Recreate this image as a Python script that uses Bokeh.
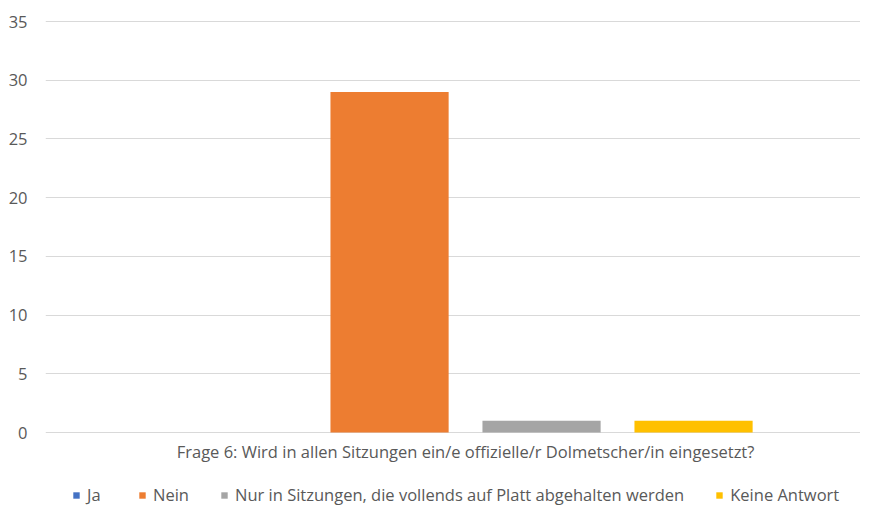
from bokeh.plotting import figure
from bokeh.models import Range1d, FixedTicker, Legend, LegendItem, ColumnDataSource
from bokeh.core.properties import value
from bokeh.embed import file_html
from bokeh.resources import INLINE

# ---- data ----
category = "Frage 6: Wird in allen Sitzungen ein/e offizielle/r Dolmetscher/in eingesetzt?"
series_names = ["Ja", "Nein", "Nur in Sitzungen, die vollends auf Platt abgehalten werden", "Keine Antwort"]
series_values = [0, 29, 1, 1]
series_colors = ["#4472C4", "#ED7D31", "#A5A5A5", "#FFC000"]
y_ticks = [0, 5, 10, 15, 20, 25, 30, 35]

FONT = "Open Sans"
TXT = "#595959"
FS = "16.5px"

cat_pos = 0.0
step = 0.1865
bar_w = 0.145
label_y = -1.62   # category label sits just below the value axis

p = figure(width=860, height=506, output_backend="svg", toolbar_location=None,
           x_range=Range1d(-0.5154, 0.4846), y_range=Range1d(-6.3, 35.09),
           min_border_left=45, min_border_right=0, min_border_top=20, min_border_bottom=0)
p.outline_line_color = None
p.background_fill_color = "white"
p.border_fill_color = "white"

renderers = []
n = len(series_names)
for i, (name, val, col) in enumerate(zip(series_names, series_values, series_colors)):
    off = (i - (n - 1) / 2) * step
    src = ColumnDataSource(dict(x=[cat_pos + off], top=[val]))
    r = p.vbar(x="x", top="top", bottom=0, width=bar_w, source=src, fill_color=col, line_color=None)
    renderers.append((name, r))

# y axis
p.yaxis.ticker = FixedTicker(ticks=y_ticks)
p.yaxis.axis_line_color = None
p.yaxis.major_tick_line_color = None
p.yaxis.major_tick_out = 0
p.yaxis.minor_tick_line_color = None
p.yaxis.major_label_standoff = 18
p.yaxis.major_label_text_font = FONT
p.yaxis.major_label_text_font_size = FS
p.yaxis.major_label_text_color = TXT

p.xaxis.visible = False
p.xgrid.grid_line_color = None
p.ygrid.grid_line_color = "#D9D9D9"
p.ygrid.grid_line_width = 1

# category label under the axis
p.text(x=[cat_pos], y=[label_y], text=[category], text_font=value(FONT),
       text_font_size=FS, text_color=TXT, text_align="center", text_baseline="middle")

legend = Legend(items=[LegendItem(label=nm, renderers=[r]) for nm, r in renderers],
                orientation="horizontal", location=(27, 0),
                padding=0, margin=0, spacing=31, label_standoff=7,
                glyph_width=8, glyph_height=8,
                border_line_color=None, background_fill_alpha=0,
                label_text_font=FONT, label_text_font_size=FS,
                label_text_color=TXT)
p.add_layout(legend, "center")

open("out.html", "w").write(file_html(p, INLINE))
